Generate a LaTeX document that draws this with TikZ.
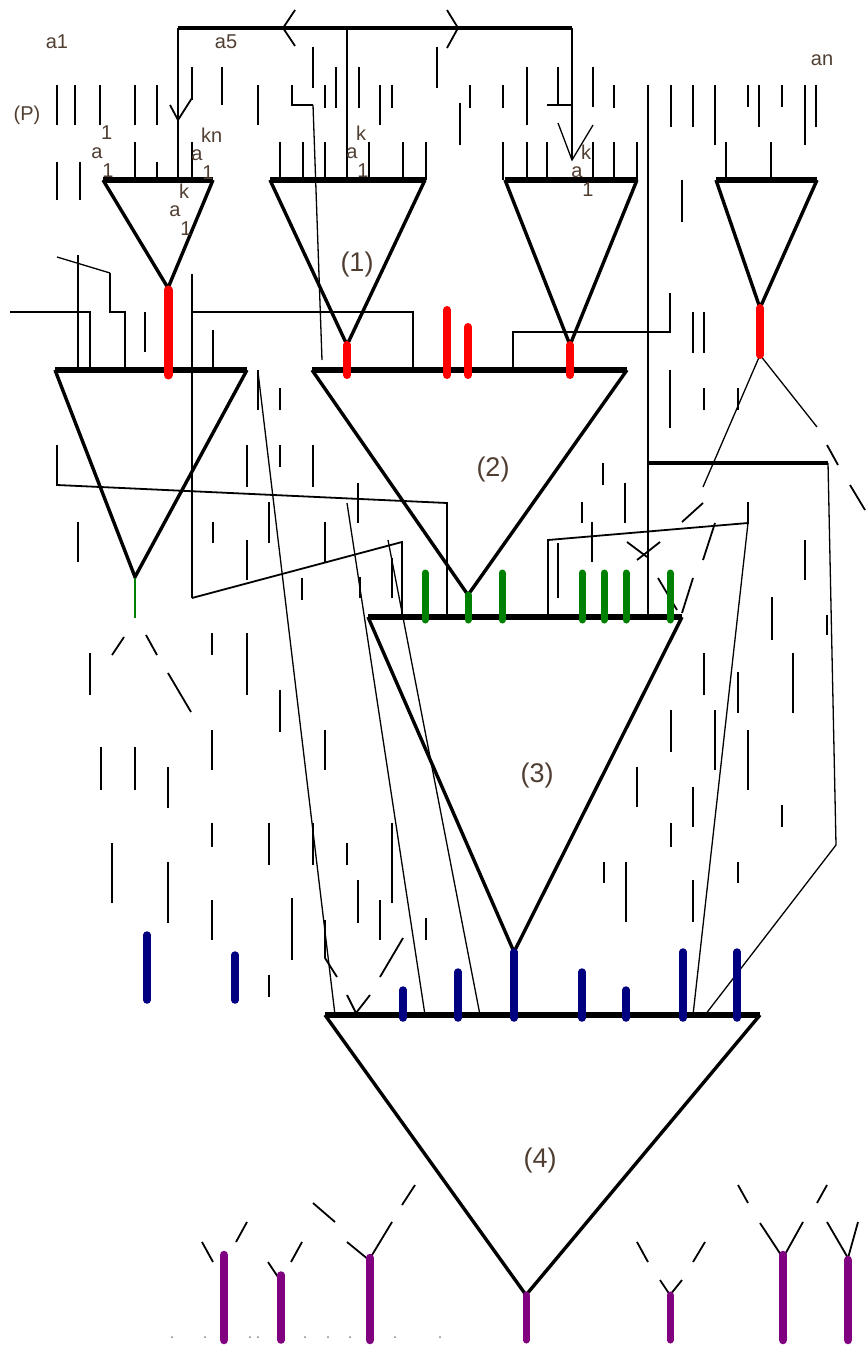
\documentclass[tikz,border=0pt]{standalone}
\usepackage{fontspec}
\setmainfont{Liberation Sans}
\definecolor{lblcol}{RGB}{80,62,50}
\definecolor{barred}{RGB}{255,0,0}
\definecolor{bargreen}{RGB}{0,128,0}
\definecolor{barblue}{RGB}{0,0,128}
\definecolor{barpurple}{RGB}{128,0,128}
\begin{document}
\begin{tikzpicture}[x=1pt,y=-1pt,
	tri/.style={line width=3.4pt,line join=miter},
	topbar/.style={line width=5.5pt},
	tickln/.style={line width=2.8pt},
	thinln/.style={line width=1.3pt},
	wing/.style={line width=1.8pt},
	colbar/.style={line width=#1,line cap=round},
	lbl/.style={text=lblcol,font=\fontsize{20}{20}\selectfont,inner sep=0pt},
	numlbl/.style={text=lblcol,font=\fontsize{27}{27}\selectfont,inner sep=0pt}]
	\useasboundingbox (0,0) rectangle (865,1348);

	% triangles
	\foreach \l/\r/\t/\ax/\ay in {103/213/180/168/288, 270/425/180/347/345,
			505/637/180/570/345, 716/817/180/760/308, 55/247/370/135/577,
			312/627/370/468/595, 368/682/617/514/952, 325/760/1015/526/1295} {
			\draw[tri] (\l,\t) -- (\ax,\ay) -- (\r,\t);
			\draw[topbar] (\l,\t) -- (\r,\t);
		}

	% short strokes
	\foreach \x/\ya/\yb in {57/85/125, 75/85/125, 100/85/125, 135/85/125, 157/85/125,
			192/67/100, 222/67/105, 258/85/125, 313/47/88, 325/85/108, 336/67/108,
			359/67/108, 380/85/125, 392/85/108, 437/47/88, 460/103/145, 470/85/108,
			503/85/108, 527/67/125, 558/67/105, 593/67/107, 614/85/108, 671/85/127,
			693/85/127, 715/85/145, 748/85/107, 759/85/127, 782/85/107, 805/85/145,
			816/85/127, 57/162/200, 80/162/200,
			135/142/180, 157/162/180, 192/142/180, 280/142/180, 303/142/180,
			325/142/180, 369/142/180, 403/142/180, 426/142/180, 503/142/180,
			527/142/180, 547/142/180, 593/142/180, 614/142/180, 637/142/180,
			726/142/180, 771/142/180, 682/180/222,
			145/312/352, 213/330/370, 258/370/410, 280/388/410, 247/445/487,
			280/445/467, 313/445/487, 78/522/562, 213/522/543, 247/540/580,
			269/502/543, 325/522/562, 358/483/523, 302/578/600, 392/558/598,
			360/577/598,
			693/312/353, 704/312/353, 670/370/428, 704/388/410, 738/388/410,
			603/463/485, 625/483/523, 582/502/523, 592/522/562, 558/543/598,
			805/540/580, 772/597/640,
			90/653/695, 212/633/655, 247/633/695, 280/690/732, 325/730/770,
			101/747/790, 135/747/790, 168/767/808, 212/730/770, 112/843/903,
			168/862/923, 212/823/847, 269/823/865, 313/823/865, 347/843/865,
			358/880/923, 380/900/940, 392/823/903, 426/918/940, 212/900/940,
			292/898/960, 325/920/958, 269/975/997,
			772/600/638, 827/615/635, 704/653/695, 738/672/713, 793/653/713,
			671/710/752, 715/710/770, 748/730/790, 637/767/807, 693/787/827,
			671/823/847, 782/805/827, 604/862/883, 626/862/922, 693/880/922,
			738/862/883} {
			\draw[tickln] (\x,\ya) -- (\x,\yb);
		}

	% top frame
	\draw[tri] (178,28) -- (572,28);
	\draw[tickln] (178,28) -- (178,180);
	\draw[tickln] (347,28) -- (347,180);
	\draw[tickln] (572,28) -- (572,160);
	\draw[tickln] (547,105) -- (572,105);
	\draw[tickln] (292,85) -- (292,105) -- (313,105);
	\draw[wing] (170,105) -- (178,120) -- (192,98);
	\draw[wing] (295,10) -- (283,28) -- (295,46);
	\draw[wing] (447,10) -- (458,28) -- (447,48);
	\draw[thinln] (558,123) -- (572,160) -- (593,125);
	\draw[thinln] (313,105) -- (322,360);

	% left links
	\draw[thinln] (57,257) -- (110,273);
	\draw[tickln] (110,273) -- (110,312) -- (125,312) -- (125,370);
	\draw[tickln] (78,255) -- (78,370);
	\draw[tickln] (10,312) -- (90,312) -- (90,370);
	\draw[tickln] (192,274) -- (192,598);
	\draw[tickln] (192,312) -- (413,312) -- (413,370);
	\draw[wing] (192,598) -- (402,542) -- (402,617);
	\draw[wing] (57,445) -- (57,485) -- (447,503) -- (447,617);

	% right links
	\draw[tickln] (648,85) -- (648,617);
	\draw[tickln] (513,370) -- (513,332) -- (670,332) -- (670,293);
	\draw[tri] (648,463) -- (828,463);
	\draw[thinln] (828,463) -- (836,845) -- (705,1015);
	\draw[wing] (748,502) -- (748,523) -- (548,540) -- (548,617);
	\draw[thinln] (748,523) -- (693,1015);
	\draw[thinln] (703,487) -- (760,355) -- (817,427);

	% long thin lines
	\draw[thinln] (258,372) -- (335,1015);
	\draw[thinln] (347,503) -- (425,1015);
	\draw[thinln] (388,540) -- (480,1015);

	% broken strokes
	\foreach \xa/\ya/\xb/\yb in {682/522/703/503, 715/523/703/560, 693/578/682/613,
			827/445/838/465, 850/485/865/510, 627/542/647/557, 660/542/637/560,
			658/578/677/610, 112/655/124/637, 146/635/157/655, 168/673/191/712,
			347/995/356/1013, 356/1013/370/995, 380/977/403/938, 325/958/337/977,
			202/1242/213/1262, 236/1242/247/1222, 268/1262/280/1280, 291/1262/302/1242,
			313/1203/335/1222, 347/1242/369/1260, 369/1260/392/1222, 402/1205/415/1185,
			637/1242/648/1262, 660/1280/670/1295, 670/1295/682/1280, 693/1262/705/1242,
			738/1185/748/1203, 760/1223/783/1258, 783/1258/803/1222, 817/1203/827/1185,
			827/1222/848/1258, 848/1258/858/1222} {
			\draw[wing] (\xa,\ya) -- (\xb,\yb);
		}

	% coloured bars
	\foreach \x/\ya/\yb/\w in {168/290/375/9, 347/345/375/8, 447/310/375/8,
			468/327/375/8, 570/345/375/8, 760/308/355/8} {
			\draw[colbar=\w pt,barred] (\x,\ya) -- (\x,\yb);
		}
	\draw[line width=2.2pt,bargreen] (135,578) -- (135,618);
	\foreach \x in {425,502,582,604,626,670} {
			\draw[colbar=7pt,bargreen] (\x,573) -- (\x,620);
		}
	\draw[colbar=7pt,bargreen] (468,595) -- (468,620);
	\foreach \x/\ya/\yb in {403/990/1018, 458/972/1018, 514/952/1018, 582/972/1018,
			626/990/1018, 683/952/1018, 737/952/1018, 147/935/1000, 235/955/1000} {
			\draw[colbar=7.5pt,barblue] (\x,\ya) -- (\x,\yb);
		}
	\foreach \x/\ya/\w in {224/1255/8.5, 281/1275/7.5, 370/1258/8.5, 526/1295/7,
			670/1295/7, 783/1255/8.5, 848/1260/8.5} {
			\draw[colbar=\w pt,barpurple] (\x,\ya) -- (\x,1340);
		}
	\foreach \x in {172,205,250,258,305,328,350,395,440} {
			\fill[gray] (\x,1337) circle (1pt);
		}

	% labels
	\node[lbl] (lblA1) at (57,42) {a1};
	\node[lbl] (lblA5) at (226,42) {a5};
	\node[lbl] (lblAn) at (822,60) {an};
	\node[lbl] (lblP) at (27,115) {(P)};
	\foreach \n/\x/\y/\sp in {1/97/153/1, 2/197/155/kn, 3/175/211/k, 4/352/153/k, 5/577/172/k} {
			\node[lbl] (base\n) at (\x,\y) {a};
			\node[lbl,anchor=west] (sup\n) at (\x+4,\y-20) {\sp};
			\node[lbl] (sub\n) at (\x+11,\y+18) {1};
		}
	\node[numlbl] (num1) at (357,265) {(1)};
	\node[numlbl] (num2) at (493,470) {(2)};
	\node[numlbl] (num3) at (537,776) {(3)};
	\node[numlbl] (num4) at (540,1160) {(4)};
\end{tikzpicture}
\end{document}
